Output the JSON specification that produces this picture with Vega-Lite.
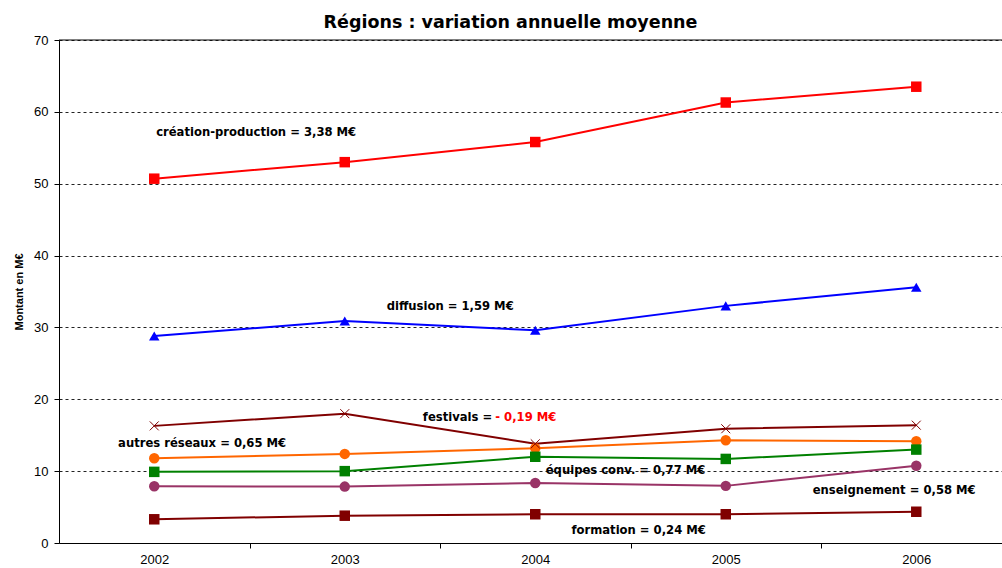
{
  "$schema": "https://vega.github.io/schema/vega-lite/v6.json",
  "autosize": "none",
  "width": 943,
  "height": 503,
  "padding": {"left": 59, "top": 40, "right": 0, "bottom": 25},
  "background": "white",
  "title": {"text": "Régions : variation annuelle moyenne", "font": "DejaVu Sans", "fontSize": 17.5, "fontWeight": "bold", "color": "#000", "anchor": "middle", "frame": "group", "dx": -20, "offset": 3},
  "config": {"view": {"stroke": null}, "font": "Liberation Sans"},
  "datasets": {
    "series": [
      {"serie": "création-production", "annee": 2002, "valeur": 50.7},
      {"serie": "création-production", "annee": 2003, "valeur": 53.0},
      {"serie": "création-production", "annee": 2004, "valeur": 55.8},
      {"serie": "création-production", "annee": 2005, "valeur": 61.3},
      {"serie": "création-production", "annee": 2006, "valeur": 63.5},
      {"serie": "diffusion", "annee": 2002, "valeur": 28.8},
      {"serie": "diffusion", "annee": 2003, "valeur": 30.9},
      {"serie": "diffusion", "annee": 2004, "valeur": 29.6},
      {"serie": "diffusion", "annee": 2005, "valeur": 33.0},
      {"serie": "diffusion", "annee": 2006, "valeur": 35.6},
      {"serie": "festivals", "annee": 2002, "valeur": 16.3},
      {"serie": "festivals", "annee": 2003, "valeur": 18.0},
      {"serie": "festivals", "annee": 2004, "valeur": 13.8},
      {"serie": "festivals", "annee": 2005, "valeur": 15.9},
      {"serie": "festivals", "annee": 2006, "valeur": 16.4},
      {"serie": "autres réseaux", "annee": 2002, "valeur": 11.8},
      {"serie": "autres réseaux", "annee": 2003, "valeur": 12.4},
      {"serie": "autres réseaux", "annee": 2004, "valeur": 13.2},
      {"serie": "autres réseaux", "annee": 2005, "valeur": 14.3},
      {"serie": "autres réseaux", "annee": 2006, "valeur": 14.15},
      {"serie": "équipes conv.", "annee": 2002, "valeur": 9.9},
      {"serie": "équipes conv.", "annee": 2003, "valeur": 10.0},
      {"serie": "équipes conv.", "annee": 2004, "valeur": 12.0},
      {"serie": "équipes conv.", "annee": 2005, "valeur": 11.7},
      {"serie": "équipes conv.", "annee": 2006, "valeur": 13.0},
      {"serie": "enseignement", "annee": 2002, "valeur": 7.9},
      {"serie": "enseignement", "annee": 2003, "valeur": 7.85},
      {"serie": "enseignement", "annee": 2004, "valeur": 8.35},
      {"serie": "enseignement", "annee": 2005, "valeur": 7.95},
      {"serie": "enseignement", "annee": 2006, "valeur": 10.75},
      {"serie": "formation", "annee": 2002, "valeur": 3.3},
      {"serie": "formation", "annee": 2003, "valeur": 3.8},
      {"serie": "formation", "annee": 2004, "valeur": 4.0},
      {"serie": "formation", "annee": 2005, "valeur": 4.0},
      {"serie": "formation", "annee": 2006, "valeur": 4.35}
    ],
    "annotations": [
      {"texte": "création-production = 3,38 M€", "annee": 2002.01, "valeur": 57.0},
      {"texte": "diffusion = 1,59 M€", "annee": 2003.22, "valeur": 32.9},
      {"texte": "festivals = ", "annee": 2003.41, "valeur": 17.4},
      {"texte": "autres réseaux = 0,65 M€", "annee": 2001.81, "valeur": 13.8},
      {"texte": "équipes conv. = 0,77 M€", "annee": 2004.055, "valeur": 10.05},
      {"texte": "enseignement = 0,58 M€", "annee": 2005.456, "valeur": 7.2},
      {"texte": "formation = 0,24 M€", "annee": 2004.19, "valeur": 1.7}
    ],
    "negatif": [
      {"texte": "- 0,19 M€", "annee": 2003.79, "valeur": 17.4}
    ]
  },
  "layer": [
    {
      "data": {"name": "series"},
      "mark": {"type": "line", "strokeWidth": 2},
      "encoding": {
        "x": {
          "field": "annee", "type": "quantitative",
          "scale": {"domain": [2001.5, 2006.45], "nice": false, "zero": false},
          "axis": {
            "title": null, "values": [2002, 2003, 2004, 2005, 2006], "format": "d",
            "tickOffset": 95.3, "labelOffset": -95.3, "tickSize": 5, "tickColor": "#000",
            "domainColor": "#000", "labelFont": "Liberation Sans", "labelFontSize": 13,
            "labelColor": "#000", "labelPadding": 5, "labelFlush": false, "labelOverlap": false, "grid": false
          }
        },
        "y": {
          "field": "valeur", "type": "quantitative",
          "scale": {"domain": [0, 70], "nice": false},
          "axis": {
            "title": "Montant en M€", "titleFont": "Liberation Sans", "titleFontSize": 11,
            "titleFontWeight": "bold", "titleColor": "#000", "titlePadding": 9,
            "values": [0, 10, 20, 30, 40, 50, 60, 70], "grid": true, "gridDash": [3, 3],
            "gridColor": "#222", "gridWidth": 1, "domainColor": "#000", "tickColor": "#000",
            "tickSize": 5, "labelFont": "Liberation Sans", "labelFontSize": 13, "labelColor": "#000",
            "labelPadding": 6
          }
        },
        "color": {
          "field": "serie", "type": "nominal", "legend": null,
          "scale": {
            "domain": ["création-production", "diffusion", "festivals", "autres réseaux", "équipes conv.", "enseignement", "formation"],
            "range": ["#FF0000", "#0000FF", "#800000", "#FF6600", "#008000", "#993366", "#800000"]
          }
        },
        "detail": {"field": "serie"}
      }
    },
    {
      "data": {"values": [{}]},
      "mark": {"type": "rule", "color": "#000", "strokeWidth": 1},
      "encoding": {"y": {"datum": 70}}
    },
    {
      "data": {"name": "series"},
      "transform": [{"filter": "datum.serie !== 'festivals'"}],
      "mark": {"type": "point", "filled": true, "opacity": 1},
      "encoding": {
        "x": {"field": "annee", "type": "quantitative"},
        "y": {"field": "valeur", "type": "quantitative"},
        "color": {"field": "serie", "type": "nominal", "legend": null},
        "shape": {
          "field": "serie", "type": "nominal", "legend": null,
          "scale": {
            "domain": ["création-production", "diffusion", "autres réseaux", "équipes conv.", "enseignement", "formation"],
            "range": ["square", "triangle-up", "circle", "square", "circle", "square"]
          }
        },
        "size": {
          "field": "serie", "type": "nominal", "legend": null,
          "scale": {
            "domain": ["création-production", "diffusion", "autres réseaux", "équipes conv.", "enseignement", "formation"],
            "range": [110, 110, 75, 95, 75, 110]
          }
        }
      }
    },
    {
      "data": {"name": "series"},
      "transform": [{"filter": "datum.serie === 'festivals'"}],
      "mark": {"type": "point", "filled": false, "shape": "M-1,-1L1,1M-1,1L1,-1", "size": 80, "strokeWidth": 1, "color": "#800000", "opacity": 1},
      "encoding": {
        "x": {"field": "annee", "type": "quantitative"},
        "y": {"field": "valeur", "type": "quantitative"}
      }
    },
    {
      "data": {"name": "annotations"},
      "mark": {"type": "text", "align": "left", "baseline": "middle", "font": "DejaVu Sans", "fontSize": 11.6, "fontWeight": "bold", "color": "#000"},
      "encoding": {
        "x": {"field": "annee", "type": "quantitative"},
        "y": {"field": "valeur", "type": "quantitative"},
        "text": {"field": "texte"}
      }
    },
    {
      "data": {"name": "negatif"},
      "mark": {"type": "text", "align": "left", "baseline": "middle", "font": "DejaVu Sans", "fontSize": 11.6, "fontWeight": "bold", "color": "#FF0000"},
      "encoding": {
        "x": {"field": "annee", "type": "quantitative"},
        "y": {"field": "valeur", "type": "quantitative"},
        "text": {"field": "texte"}
      }
    }
  ]
}
